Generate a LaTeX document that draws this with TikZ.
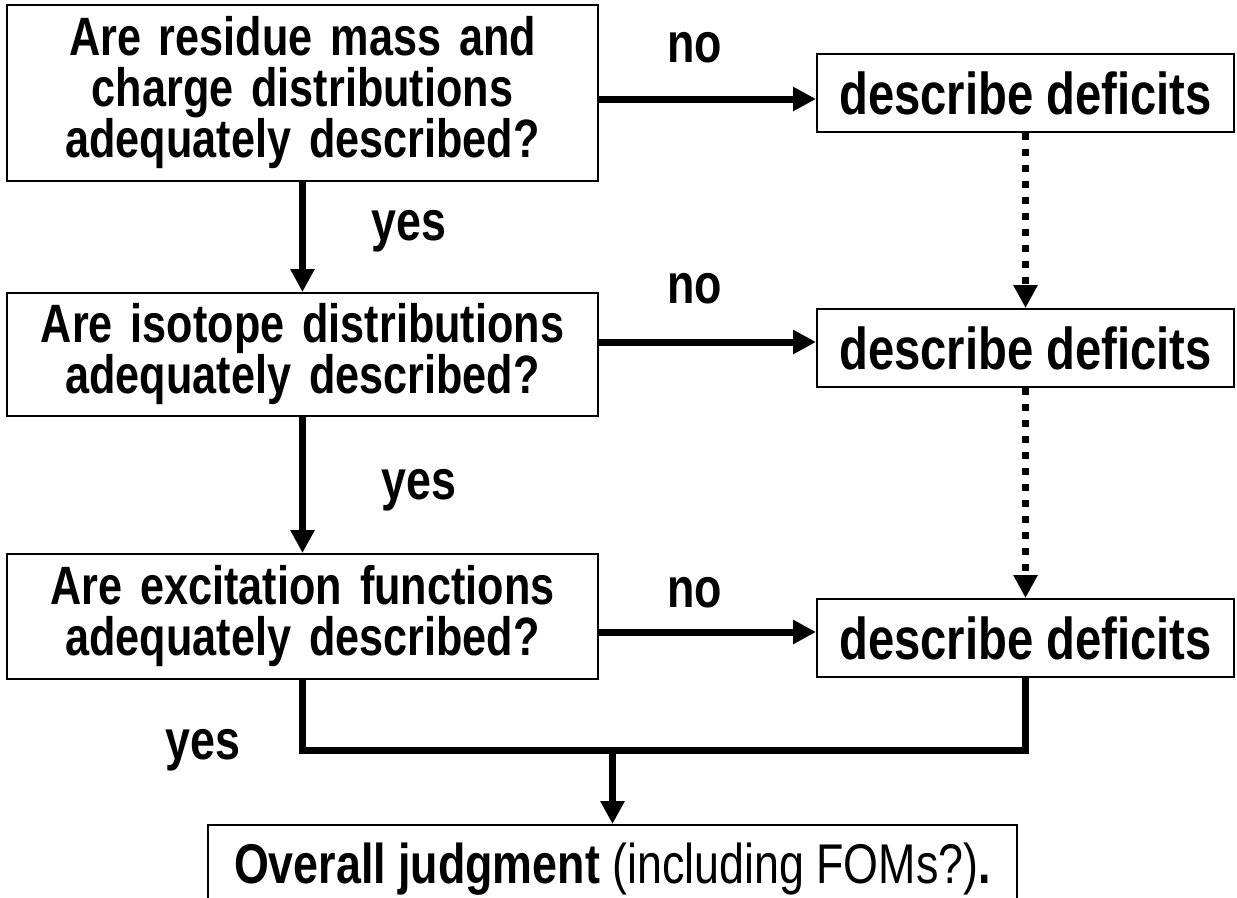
\documentclass[tikz,border=0pt]{standalone}
\usepackage{fontspec}
\setmainfont{Liberation Sans}[FakeStretch=0.8]
\usetikzlibrary{arrows.meta,positioning}

\begin{document}
\begin{tikzpicture}[x=1pt, y=-1pt, >={Triangle[length=23pt,width=23pt]},
    question/.style={draw, line width=2pt, minimum width=591pt, text width=585pt, inner sep=3pt, align=center, font=\fontsize{54}{51}\selectfont\bfseries},
    deficit/.style={draw, line width=2pt, minimum width=417pt, minimum height=78pt, inner sep=0pt, font=\fontsize{59}{60}\selectfont\bfseries},
    flow/.style={->, line width=7pt},
    pipe/.style={line width=7pt},
    hint/.style={->, line width=7pt, dash pattern=on 7pt off 9pt},
    answer/.style={font=\fontsize{56}{60}\selectfont\bfseries}]

    \path[use as bounding box] (0,0) rectangle (1237,897);
    \clip (0,0) rectangle (1237,897);

    \node[question, minimum height=176pt]  (resid)   at (302.5,93)           {Are residue mass and\\charge distributions\\adequately described?};
    \node[question, minimum height=123pt]  (isotope) [below=110pt of resid]   {Are isotope distributions\\adequately described?};
    \node[question, minimum height=125pt]  (excit)   [below=136pt of isotope] {Are excitation functions\\adequately described?};

    \node[deficit] (defresid)   [right=217pt of resid]        {describe deficits};
    \node[deficit] (defisotope) [below=175pt of defresid]     {describe deficits};
    \node[deficit] (defexcit)   [below=210pt of defisotope]   {describe deficits};

    \node[draw, line width=2pt, minimum width=809pt, minimum height=88pt, inner sep=0pt,
          font=\fontsize{56}{60}\selectfont] (overall) [below=144pt of excit, xshift=310pt]
          {\textbf{Overall judgment} (including FOMs?)\textbf{.}};

    \coordinate[yshift=-6pt] (in1) at (defresid.west);
    \coordinate[yshift=6pt]  (in2) at (defisotope.west);
    \coordinate[yshift=6pt]  (in3) at (defexcit.west);
    \path (excit.south) ++(0,70) coordinate (join);

    % no branches
    \draw[flow] (resid.east |- in1)   -- node[answer, above=29pt, pos=.44] {no} (in1);
    \draw[flow] (isotope.east |- in2) -- node[answer, above=31pt, pos=.44] {no} (in2);
    \draw[flow] (excit.east |- in3)   -- node[answer, above=17pt, pos=.44] {no} (in3);

    % yes branches
    \draw[flow] (resid)   -- node[answer, right=62pt, pos=.45] {yes} (isotope);
    \draw[flow] (isotope) -- node[answer, right=72pt, pos=.54] {yes} (excit);

    \draw[hint] (defresid)   -- (defisotope);
    \draw[hint] (defisotope) -- (defexcit);

    \draw[pipe] (excit.south) -- node[answer, left=55pt, pos=1] {yes} (join) -| (defexcit.south);
    \draw[flow] (join -| overall.north) -- (overall.north);

\end{tikzpicture}
\end{document}
